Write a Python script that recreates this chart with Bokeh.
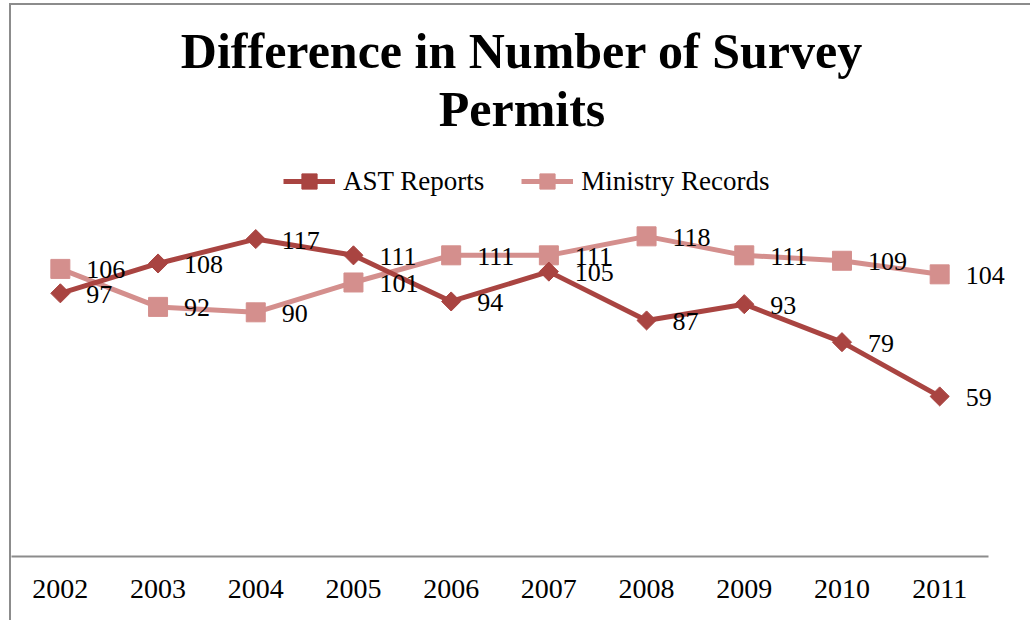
import numpy as np
from bokeh.plotting import figure
from bokeh.models import (ColumnDataSource, LabelSet, Legend, LegendItem, Title,
                          Range1d, FixedTicker)
from bokeh.core.properties import value
from bokeh.embed import file_html
from bokeh.resources import INLINE

years = ["2002", "2003", "2004", "2005", "2006", "2007", "2008", "2009", "2010", "2011"]
ast_reports = [97, 108, 117, 111, 94, 105, 87, 93, 79, 59]
ministry_records = [106, 92, 90, 101, 111, 111, 118, 111, 109, 104]

AST_COLOR = "#A94441"
MIN_COLOR = "#D48F8D"
GRAY = "#8C8C8C"
FONT = "Liberation Serif"

pos = list(range(len(years)))  # category slots on the x axis

src = ColumnDataSource(dict(
    x=pos,
    year=years,
    ast=ast_reports,
    ministry=ministry_records,
    ast_lbl=[str(v) for v in ast_reports],
    min_lbl=[str(v) for v in ministry_records],
))

p = figure(
    x_range=Range1d(-0.5, len(years) - 0.5 + 0.45), y_range=(0, 154.8),
    width=1021, height=617,
    output_backend="svg", toolbar_location=None, title=None,
    min_border_left=0, min_border_right=0, min_border_top=131, min_border_bottom=66,
    styles={"margin-left": "9px", "margin-top": "3px",
            "border-left": f"2px solid {GRAY}", "border-top": f"2px solid {GRAY}"},
)
p.outline_line_color = None
p.xgrid.visible = False
p.ygrid.visible = False
p.yaxis.visible = False
p.background_fill_color = "white"
p.border_fill_color = "white"

ax = p.xaxis[0]
ax.ticker = FixedTicker(ticks=pos)
ax.major_label_overrides = {i: y for i, y in zip(pos, years)}
ax.bounds = (-0.5, len(years) - 0.5)
ax.axis_line_color = GRAY
ax.axis_line_width = 2
ax.major_tick_line_color = None
ax.minor_tick_line_color = None
ax.major_label_text_font = FONT
ax.major_label_text_font_size = "28px"
ax.major_label_text_color = "black"
ax.major_label_standoff = 17

l_min = p.line("x", "ministry", source=src, line_color=MIN_COLOR, line_width=5)
s_min = p.scatter("x", "ministry", source=src, marker="square", size=19,
                  fill_color=MIN_COLOR, line_color=MIN_COLOR)
l_ast = p.line("x", "ast", source=src, line_color=AST_COLOR, line_width=5)
s_ast = p.scatter("x", "ast", source=src, marker="square", size=13.5, angle=np.pi / 4,
                  fill_color=AST_COLOR, line_color=AST_COLOR)

for col, lbl in (("ast", "ast_lbl"), ("ministry", "min_lbl")):
    p.add_layout(LabelSet(x="x", y=col, text=lbl, source=src,
                          x_offset=26, y_offset=-1,
                          text_align="left", text_baseline="middle",
                          text_font=value(FONT), text_font_size="26px",
                          text_color="black"))

legend = Legend(
    items=[LegendItem(label="AST Reports", renderers=[l_ast, s_ast]),
           LegendItem(label="Ministry Records", renderers=[l_min, s_min])],
    orientation="horizontal", location=(272, 356),
    border_line_color=None, background_fill_alpha=0,
    label_text_font=FONT, label_text_font_size="27px", label_text_color="black",
    glyph_width=52, glyph_height=38, label_standoff=8, spacing=37, padding=0, margin=0,
)
p.add_layout(legend, "center")

t2 = Title(text="Permits", align="center",
           text_font=FONT, text_font_size="50px", text_font_style="bold",
           text_color="black", standoff=0)
t1 = Title(text="Difference in Number of Survey", align="center",
           text_font=FONT, text_font_size="50px", text_font_style="bold",
           text_color="black", standoff=0)
p.add_layout(t2, "above")
p.add_layout(t1, "above")

open("out.html", "w").write(file_html(p, INLINE))
